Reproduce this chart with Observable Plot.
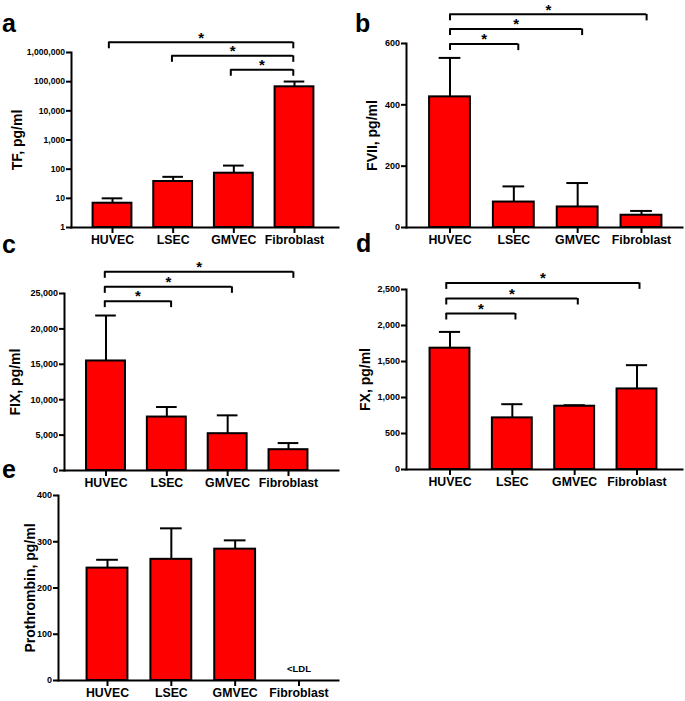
<!DOCTYPE html>
<html>
<head>
<meta charset="utf-8">
<script src="https://cdn.jsdelivr.net/npm/d3@7"></script>
<script src="https://cdn.jsdelivr.net/npm/@observablehq/plot@0.6"></script>
<style>
  body { margin: 0; background: #fff; }
  #root { position: relative; width: 685px; height: 701px; background: #fff; overflow: hidden; font-family: "Liberation Sans", Arial, sans-serif; }
  #root svg, #root svg text { font-family: "Liberation Sans", Arial, Helvetica, sans-serif !important; font-weight: bold !important; }
  .panel { position: absolute; }
  .letter { position: absolute; font-size: 25px; font-weight: bold; line-height: 25px; color: #000; }
</style>
</head>
<body>
<div id="root"></div>
<script>
// ---- data ----
const categories = ["HUVEC", "LSEC", "GMVEC", "Fibroblast"];

const tfMean = [6.8, 37.8, 72.7, 66600];
const tfSd = [3.2, 16.8, 60, 34400];
const tfTicks = [1, 10, 100, 1000, 10000, 100000, 1000000];
const tfBrackets = [
  {from: -0.06, to: 2.98, level: 2240000},
  {from: 0.98, to: 2.98, level: 770000},
  {from: 1.95, to: 2.98, level: 256000}
];

const fviiMean = [426, 83, 67, 40];
const fviiSd = [127, 51, 78, 14];
const fviiTicks = [0, 200, 400, 600];
const fviiBrackets = [
  {from: 0, to: 3.08, level: 695},
  {from: 0, to: 2.07, level: 647},
  {from: 0, to: 1.07, level: 598}
];

const fixMean = [15470, 7550, 5200, 2940];
const fixSd = [6420, 1415, 2590, 935];
const fixTicks = [0, 5000, 10000, 15000, 20000, 25000];
const fixBrackets = [
  {from: -0.02, to: 3.08, level: 28060},
  {from: -0.02, to: 2.07, level: 25940},
  {from: -0.02, to: 1.07, level: 23920}
];

const fxMean = [1685, 717, 879, 1119];
const fxSd = [226, 190, 14, 330];
const fxTicks = [0, 500, 1000, 1500, 2000, 2500];
const fxBrackets = [
  {from: -0.06, to: 3.04, level: 2592},
  {from: -0.06, to: 2.05, level: 2375},
  {from: -0.06, to: 1.05, level: 2167}
];

const prothrombinMean = [243, 262, 284, null];
const prothrombinSd = [18, 67, 19, null];
const prothrombinNotes = [null, null, null, "<LDL"];
const prothrombinTicks = [0, 100, 200, 300, 400];

// ---- layout ----
const panels = [
  {letter: "a", left: 0, top: 0, width: 342, height: 250, mt: 52, mb: 23, ml: 71, mr: 4, xr: [112, 294],
   type: "log", domain: [1, 1000000], base: 1, ticks: tfTicks, mean: tfMean, sd: tfSd, brackets: tfBrackets,
   label: "TF, pg/ml", labelDx: -54, tickFont: 8.6, lx: 2, ly: 11},
  {letter: "b", left: 342, top: 0, width: 343, height: 250, mt: 43, mb: 23, ml: 64, mr: 3, xr: [107.5, 299],
   type: "linear", domain: [0, 600], base: 0, ticks: fviiTicks, mean: fviiMean, sd: fviiSd, brackets: fviiBrackets,
   label: "FVII, pg/ml", labelDx: -34, tickFont: 9, lx: 355, ly: 11},
  {letter: "c", left: 0, top: 250, width: 342, height: 240, mt: 43, mb: 20, ml: 64, mr: 4, xr: [105.5, 288],
   type: "linear", domain: [0, 25000], base: 0, ticks: fixTicks, mean: fixMean, sd: fixSd, brackets: fixBrackets,
   label: "FIX, pg/ml", labelDx: -49, tickFont: 9, lx: 2, ly: 232},
  {letter: "d", left: 342, top: 250, width: 343, height: 240, mt: 39, mb: 21, ml: 64, mr: 3, xr: [107.5, 294.5],
   type: "linear", domain: [0, 2500], base: 0, ticks: fxTicks, mean: fxMean, sd: fxSd, brackets: fxBrackets,
   label: "FX, pg/ml", labelDx: -41, tickFont: 9, lx: 356, ly: 231},
  {letter: "e", left: 0, top: 485, width: 342, height: 216, mt: 10, mb: 21, ml: 58, mr: 4, xr: [107, 298.5],
   type: "linear", domain: [0, 400], base: 0, ticks: prothrombinTicks, mean: prothrombinMean, sd: prothrombinSd, brackets: [],
   notes: prothrombinNotes, label: "Prothrombin, pg/ml", labelDx: -28, tickFont: 9, lx: 2, ly: 457}
];

const root = document.getElementById("root");
const RED = "#ff0000";
const FONT = "'Liberation Sans', Arial, Helvetica, sans-serif";

for (const p of panels) {
  const rows = categories.map((c, i) => ({i, cat: c, mean: p.mean[i], sd: p.sd[i], note: p.notes ? p.notes[i] : null}));
  const bars = rows.filter(d => d.mean != null);
  const notes = rows.filter(d => d.note);
  const half = 0.32, cap = 0.17;

  const chart = Plot.plot({
    width: p.width,
    height: p.height,
    marginTop: p.mt,
    marginBottom: p.mb,
    marginLeft: p.ml,
    marginRight: p.mr,
    style: {fontFamily: FONT, fontWeight: "bold", color: "#000", background: "transparent", overflow: "visible"},
    x: {type: "linear", domain: [0, 3], range: p.xr},
    y: {type: p.type, domain: p.domain, range: [p.height - p.mb, p.mt]},
    marks: [
      Plot.rectY(bars, {x1: d => d.i - half, x2: d => d.i + half, y1: () => p.base, y2: "mean",
        fill: RED, stroke: "#000", strokeWidth: 2}),
      Plot.ruleX(bars, {x: "i", y1: "mean", y2: d => d.mean + d.sd, stroke: "#000", strokeWidth: 2}),
      Plot.ruleY(bars, {y: d => d.mean + d.sd, x1: d => d.i - cap, x2: d => d.i + cap, stroke: "#000", strokeWidth: 2}),
      Plot.text(notes, {x: "i", y: () => p.base, text: "note", dy: -12, fontSize: 9.5, fontWeight: "bold"}),
      // significance brackets
      Plot.ruleY(p.brackets, {y: "level", x1: "from", x2: "to", stroke: "#000", strokeWidth: 2}),
      Plot.ruleX(p.brackets, {x: "from", y1: "level", y2: "level", insetBottom: -6.5, stroke: "#000", strokeWidth: 2}),
      Plot.ruleX(p.brackets, {x: "to", y1: "level", y2: "level", insetBottom: -6.5, stroke: "#000", strokeWidth: 2}),
      Plot.text(p.brackets, {x: d => (d.from + d.to) / 2, y: "level", text: () => "*", dy: -4.5, fontSize: 15, fontWeight: "bold"}),
      // axes
      Plot.axisY({ticks: p.ticks, tickFormat: d3.format(","), tickSize: 5, tickPadding: 1.5, fontSize: p.tickFont,
        fontWeight: "bold", strokeWidth: 2, label: null}),
      Plot.axisX({ticks: [0, 1, 2, 3], tickFormat: i => categories[i], tickSize: 6, tickPadding: 2, fontSize: 12.3,
        fontWeight: "bold", strokeWidth: 2, label: null}),
      Plot.frame({anchor: "left", stroke: "#000", strokeWidth: 2}),
      Plot.frame({anchor: "bottom", stroke: "#000", strokeWidth: 2}),
      Plot.text([p.label], {frameAnchor: "left", textAnchor: "middle", lineAnchor: "middle", text: d => d, rotate: -90,
        dx: p.labelDx, fontSize: 14, fontWeight: "bold"})
    ]
  });
  const wrap = document.createElement("div");
  wrap.className = "panel";
  wrap.style.left = p.left + "px";
  wrap.style.top = p.top + "px";
  wrap.appendChild(chart);
  root.appendChild(wrap);

  const letter = document.createElement("div");
  letter.className = "letter";
  letter.textContent = p.letter;
  letter.style.left = p.lx + "px";
  letter.style.top = p.ly + "px";
  root.appendChild(letter);
}
</script>
</body>
</html>
